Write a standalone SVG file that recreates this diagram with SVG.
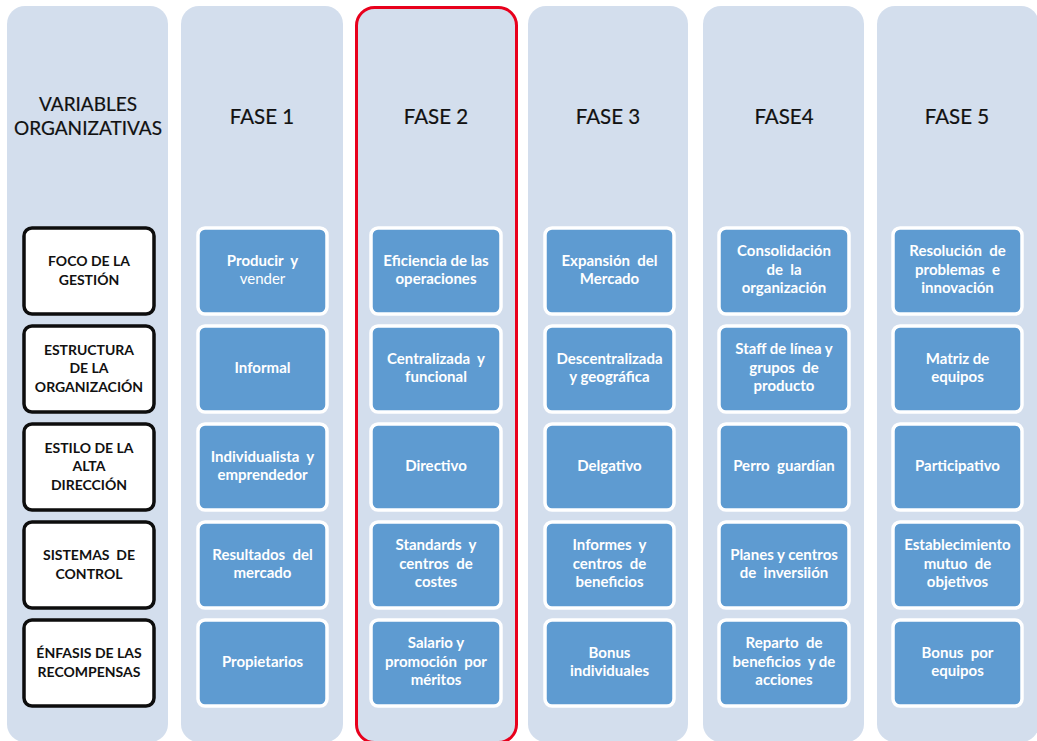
<svg xmlns="http://www.w3.org/2000/svg" width="1037" height="741" viewBox="0 0 1037 741">
  <style>
    .col { fill: #d3deed; }
    .hot { fill: #d3deed; stroke: #e8001c; stroke-width: 3; }
    .head { font-family: Lato, "Open Sans", sans-serif; font-size: 20.5px; fill: #111; stroke: #111; stroke-width: 0.2; text-anchor: middle; }
    .small { font-size: 19px; }
    .var { fill: #ffffff; stroke: #0d0d0d; stroke-width: 3.5; }
    .vtxt { font-family: Lato, "Open Sans", sans-serif; font-size: 14px; font-weight: bold; fill: #111; text-anchor: middle; white-space: pre; }
    .cell { fill: #5e9bd1; stroke: #ffffff; stroke-width: 3.5; }
    .ctxt { font-family: Lato, "Open Sans", sans-serif; font-size: 15px; font-weight: bold; fill: #ffffff; text-anchor: middle; white-space: pre; }
    .thin { font-weight: normal; }
  </style>
  <rect width="1037" height="741" fill="#ffffff"/>

  <!-- columns -->
  <g id="columns">
    <rect class="col" x="7" y="6" width="161" height="736" rx="18"/>
    <rect class="col" x="181" y="6" width="162" height="736" rx="18"/>
    <rect class="col" x="528" y="6" width="160" height="736" rx="18"/>
    <rect class="col" x="703" y="6" width="161" height="736" rx="18"/>
    <rect class="col" x="877" y="6" width="162" height="736" rx="18"/>
    <rect class="hot" x="356.5" y="7.5" width="160" height="735" rx="18"/>
  </g>

  <!-- column headings -->
  <g id="headings">
    <text class="head small" x="88" y="111">VARIABLES</text>
    <text class="head small" x="88" y="135">ORGANIZATIVAS</text>
    <text class="head" x="262" y="124">FASE 1</text>
    <text class="head" x="436" y="124">FASE 2</text>
    <text class="head" x="608" y="124">FASE 3</text>
    <text class="head" x="784" y="124">FASE4</text>
    <text class="head" x="957" y="124">FASE 5</text>
  </g>

  <!-- organisational variables -->
  <g id="var-foco">
    <rect class="var" x="24" y="228" width="130" height="86" rx="8"/>
    <text class="vtxt" x="89" y="266">FOCO DE LA</text>
    <text class="vtxt" x="89" y="285">GESTIÓN</text>
  </g>
  <g id="var-estructura">
    <rect class="var" x="24" y="326" width="130" height="86" rx="8"/>
    <text class="vtxt" x="89" y="355">ESTRUCTURA</text>
    <text class="vtxt" x="89" y="373">DE LA</text>
    <text class="vtxt" x="89" y="392">ORGANIZACIÓN</text>
  </g>
  <g id="var-estilo">
    <rect class="var" x="24" y="424" width="130" height="86" rx="8"/>
    <text class="vtxt" x="89" y="453">ESTILO DE LA</text>
    <text class="vtxt" x="89" y="471">ALTA</text>
    <text class="vtxt" x="89" y="490">DIRECCIÓN</text>
  </g>
  <g id="var-control">
    <rect class="var" x="24" y="522" width="130" height="86" rx="8"/>
    <text class="vtxt" x="89" y="560">SISTEMAS  DE</text>
    <text class="vtxt" x="89" y="579">CONTROL</text>
  </g>
  <g id="var-recompensas">
    <rect class="var" x="24" y="620" width="130" height="86" rx="8"/>
    <text class="vtxt" x="89" y="658">ÉNFASIS DE LAS</text>
    <text class="vtxt" x="89" y="677">RECOMPENSAS</text>
  </g>

  <!-- FASE 1 -->
  <g id="f1-r1"><rect class="cell" x="198" y="228" width="129" height="86" rx="7"/>
    <text class="ctxt" x="262.5" y="266">Producir  y</text><text class="ctxt thin" x="262.5" y="284">vender</text></g>
  <g id="f1-r2"><rect class="cell" x="198" y="326" width="129" height="86" rx="7"/>
    <text class="ctxt" x="262.5" y="373">Informal</text></g>
  <g id="f1-r3"><rect class="cell" x="198" y="424" width="129" height="86" rx="7"/>
    <text class="ctxt" x="262.5" y="462">Individualista  y</text><text class="ctxt" x="262.5" y="480">emprendedor</text></g>
  <g id="f1-r4"><rect class="cell" x="198" y="522" width="129" height="86" rx="7"/>
    <text class="ctxt" x="262.5" y="560">Resultados  del</text><text class="ctxt" x="262.5" y="578">mercado</text></g>
  <g id="f1-r5"><rect class="cell" x="198" y="620" width="129" height="86" rx="7"/>
    <text class="ctxt" x="262.5" y="667">Propietarios</text></g>

  <!-- FASE 2 -->
  <g id="f2-r1"><rect class="cell" x="371" y="228" width="130" height="86" rx="7"/>
    <text class="ctxt" x="436" y="266">Eficiencia de las</text><text class="ctxt" x="436" y="284">operaciones</text></g>
  <g id="f2-r2"><rect class="cell" x="371" y="326" width="130" height="86" rx="7"/>
    <text class="ctxt" x="436" y="364">Centralizada  y</text><text class="ctxt" x="436" y="382">funcional</text></g>
  <g id="f2-r3"><rect class="cell" x="371" y="424" width="130" height="86" rx="7"/>
    <text class="ctxt" x="436" y="471">Directivo</text></g>
  <g id="f2-r4"><rect class="cell" x="371" y="522" width="130" height="86" rx="7"/>
    <text class="ctxt" x="436" y="550">Standards  y</text><text class="ctxt" x="436" y="569">centros  de</text><text class="ctxt" x="436" y="587">costes</text></g>
  <g id="f2-r5"><rect class="cell" x="371" y="620" width="130" height="86" rx="7"/>
    <text class="ctxt" x="436" y="648">Salario y</text><text class="ctxt" x="436" y="667">promoción  por</text><text class="ctxt" x="436" y="685">méritos</text></g>

  <!-- FASE 3 -->
  <g id="f3-r1"><rect class="cell" x="545" y="228" width="129" height="86" rx="7"/>
    <text class="ctxt" x="609.5" y="266">Expansión  del</text><text class="ctxt" x="609.5" y="284">Mercado</text></g>
  <g id="f3-r2"><rect class="cell" x="545" y="326" width="129" height="86" rx="7"/>
    <text class="ctxt" x="609.5" y="364">Descentralizada</text><text class="ctxt" x="609.5" y="382">y geográfica</text></g>
  <g id="f3-r3"><rect class="cell" x="545" y="424" width="129" height="86" rx="7"/>
    <text class="ctxt" x="609.5" y="471">Delgativo</text></g>
  <g id="f3-r4"><rect class="cell" x="545" y="522" width="129" height="86" rx="7"/>
    <text class="ctxt" x="609.5" y="550">Informes  y</text><text class="ctxt" x="609.5" y="569">centros  de</text><text class="ctxt" x="609.5" y="587">beneficios</text></g>
  <g id="f3-r5"><rect class="cell" x="545" y="620" width="129" height="86" rx="7"/>
    <text class="ctxt" x="609.5" y="658">Bonus</text><text class="ctxt" x="609.5" y="676">individuales</text></g>

  <!-- FASE 4 -->
  <g id="f4-r1"><rect class="cell" x="719" y="228" width="130" height="86" rx="7"/>
    <text class="ctxt" x="784" y="256">Consolidación</text><text class="ctxt" x="784" y="275">de  la</text><text class="ctxt" x="784" y="293">organización</text></g>
  <g id="f4-r2"><rect class="cell" x="719" y="326" width="130" height="86" rx="7"/>
    <text class="ctxt" x="784" y="354">Staff de línea y</text><text class="ctxt" x="784" y="373">grupos  de</text><text class="ctxt" x="784" y="391">producto</text></g>
  <g id="f4-r3"><rect class="cell" x="719" y="424" width="130" height="86" rx="7"/>
    <text class="ctxt" x="784" y="471">Perro  guardían</text></g>
  <g id="f4-r4"><rect class="cell" x="719" y="522" width="130" height="86" rx="7"/>
    <text class="ctxt" x="784" y="560">Planes y centros</text><text class="ctxt" x="784" y="578">de  inversiión</text></g>
  <g id="f4-r5"><rect class="cell" x="719" y="620" width="130" height="86" rx="7"/>
    <text class="ctxt" x="784" y="648">Reparto  de</text><text class="ctxt" x="784" y="667">beneficios  y de</text><text class="ctxt" x="784" y="685">acciones</text></g>

  <!-- FASE 5 -->
  <g id="f5-r1"><rect class="cell" x="893" y="228" width="129" height="86" rx="7"/>
    <text class="ctxt" x="957.5" y="256">Resolución  de</text><text class="ctxt" x="957.5" y="275">problemas  e</text><text class="ctxt" x="957.5" y="293">innovación</text></g>
  <g id="f5-r2"><rect class="cell" x="893" y="326" width="129" height="86" rx="7"/>
    <text class="ctxt" x="957.5" y="364">Matriz de</text><text class="ctxt" x="957.5" y="382">equipos</text></g>
  <g id="f5-r3"><rect class="cell" x="893" y="424" width="129" height="86" rx="7"/>
    <text class="ctxt" x="957.5" y="471">Participativo</text></g>
  <g id="f5-r4"><rect class="cell" x="893" y="522" width="129" height="86" rx="7"/>
    <text class="ctxt" x="957.5" y="550">Establecimiento</text><text class="ctxt" x="957.5" y="569">mutuo  de</text><text class="ctxt" x="957.5" y="587">objetivos</text></g>
  <g id="f5-r5"><rect class="cell" x="893" y="620" width="129" height="86" rx="7"/>
    <text class="ctxt" x="957.5" y="658">Bonus  por</text><text class="ctxt" x="957.5" y="676">equipos</text></g>

  <!-- no connectors in this chart -->
  <g id="connectors"/>
</svg>
